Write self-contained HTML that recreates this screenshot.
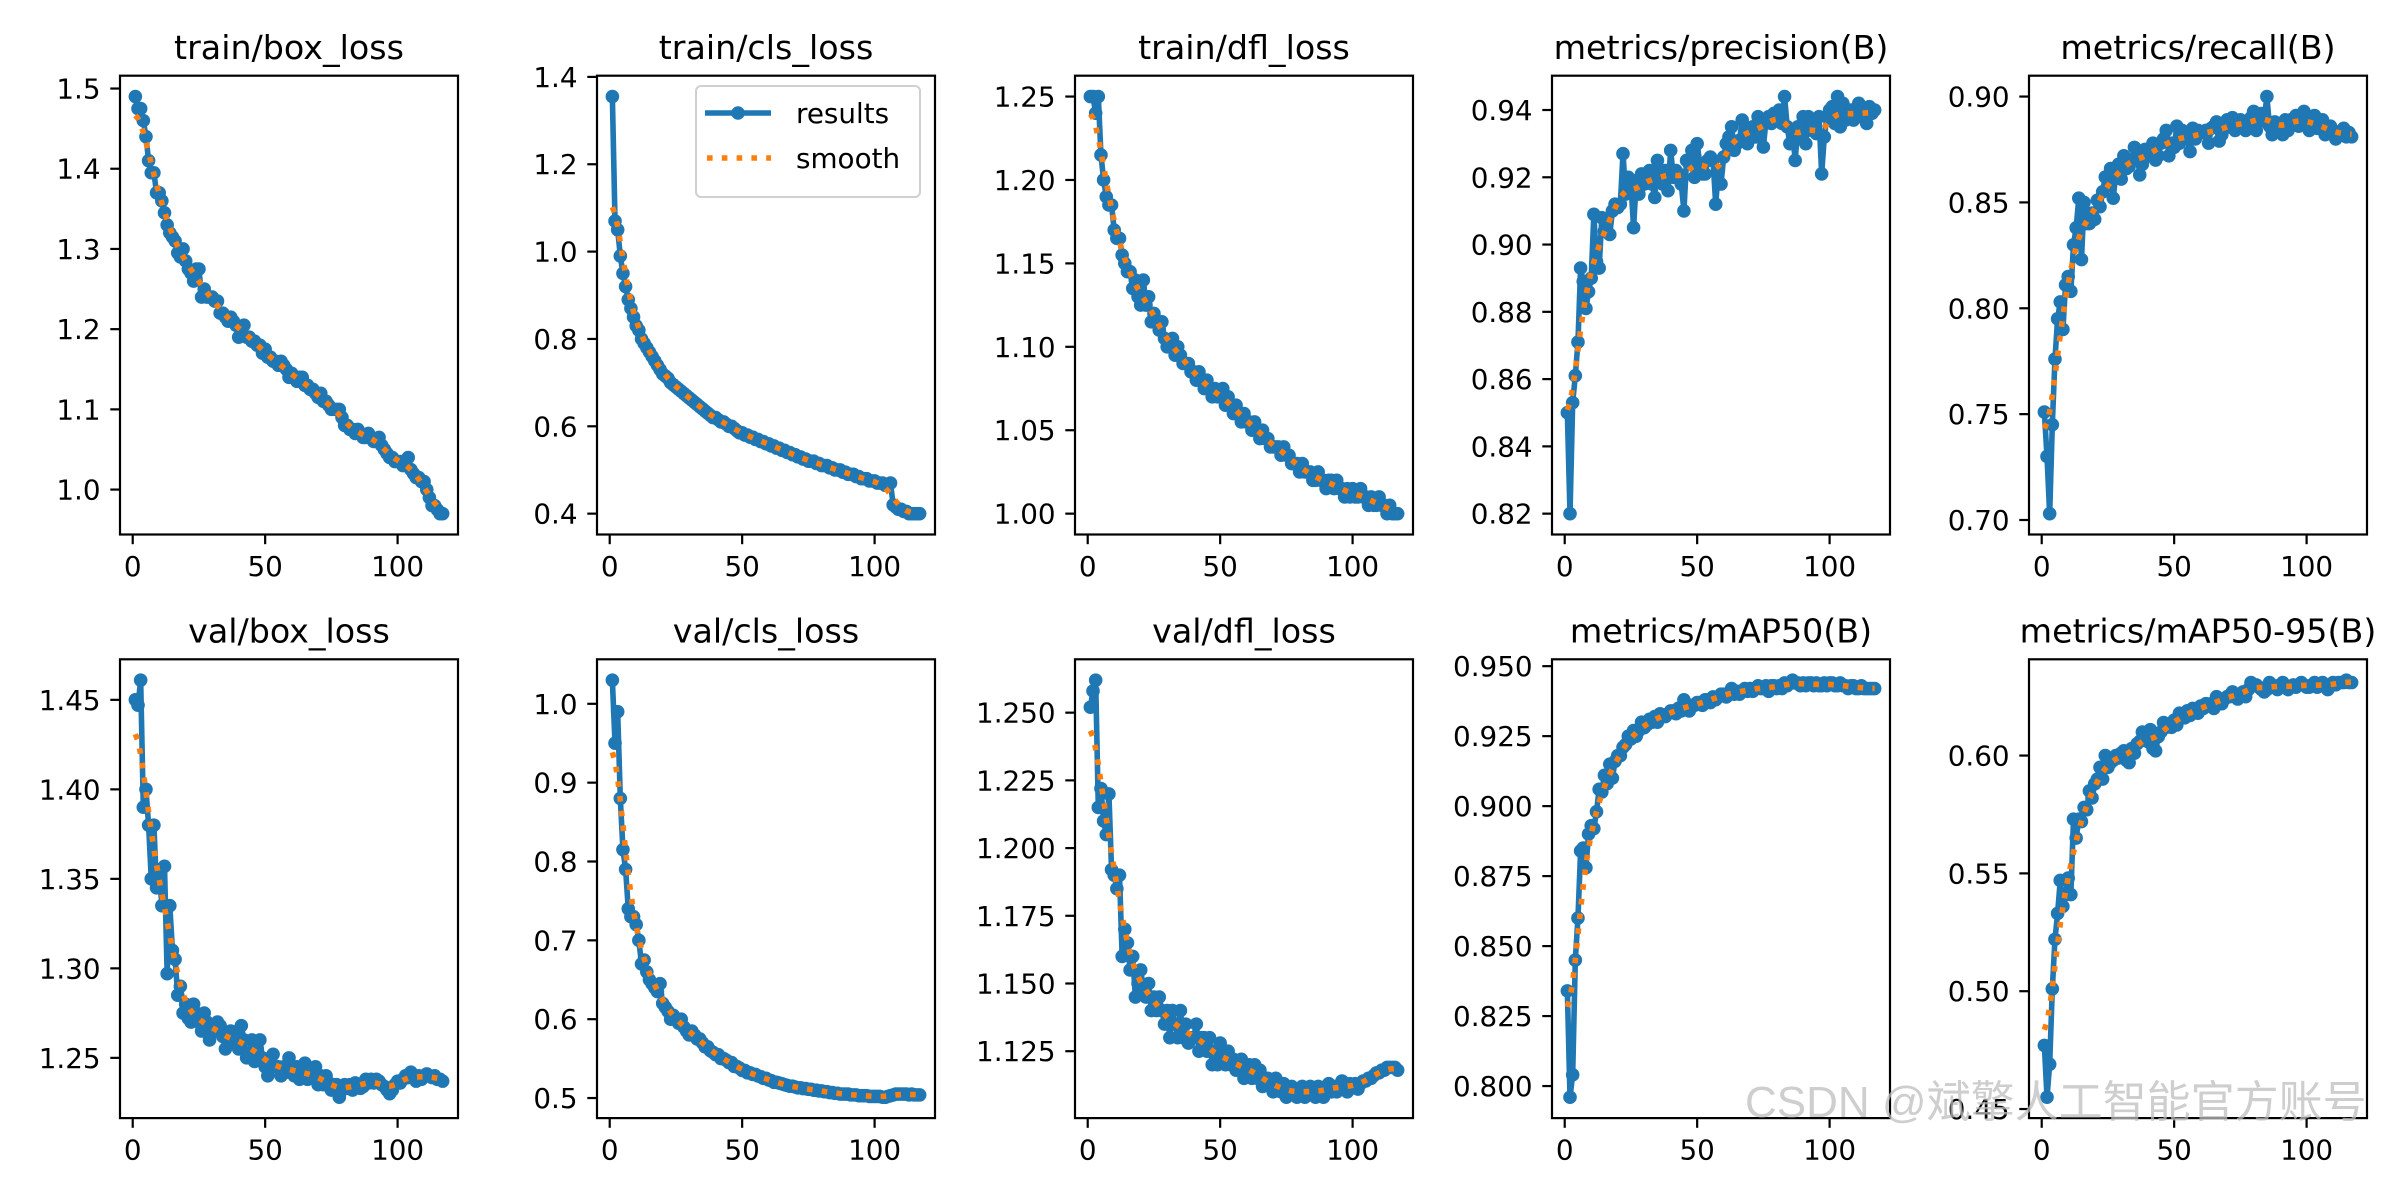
<!DOCTYPE html>
<html><head><meta charset="utf-8"><style>
html,body{margin:0;padding:0;background:#fff;}
svg{display:block;font-family:"DejaVu Sans","Liberation Sans",sans-serif;}
.wm{position:absolute;left:1745px;top:1066px;font:44px "Liberation Sans","Noto Sans CJK SC",sans-serif;color:rgba(190,190,190,0.75);white-space:nowrap;}
</style></head><body>
<div style="position:relative;width:2400px;height:1200px;overflow:hidden">
<svg id="fig" width="2400" height="1200" xmlns="http://www.w3.org/2000/svg"></svg>
<div class="wm">CSDN @斌擎人工智能官方账号</div>
</div>
<script>
const titles=["train/box_loss","train/cls_loss","train/dfl_loss","metrics/precision(B)","metrics/recall(B)","val/box_loss","val/cls_loss","val/dfl_loss","metrics/mAP50(B)","metrics/mAP50-95(B)"];
const trainBox=[1.49,1.475,1.475,1.46,1.44,1.41,1.395,1.395,1.37,1.37,1.36,1.345,1.33,1.32,1.315,1.31,1.295,1.29,1.3,1.285,1.275,1.27,1.26,1.275,1.275,1.24,1.25,1.24,1.24,1.24,1.235,1.235,1.22,1.22,1.215,1.21,1.215,1.21,1.205,1.19,1.2,1.205,1.19,1.19,1.185,1.185,1.18,1.18,1.17,1.175,1.165,1.165,1.16,1.16,1.155,1.16,1.155,1.15,1.14,1.145,1.14,1.135,1.14,1.14,1.13,1.13,1.125,1.125,1.12,1.115,1.12,1.11,1.11,1.105,1.1,1.1,1.1,1.1,1.09,1.08,1.08,1.075,1.075,1.07,1.075,1.07,1.065,1.065,1.07,1.065,1.06,1.06,1.065,1.055,1.05,1.045,1.04,1.04,1.035,1.035,1.035,1.03,1.035,1.04,1.025,1.02,1.015,1.015,1.01,1.01,1.0,0.99,0.98,0.98,0.975,0.97,0.97];
const trainCls=[1.355,1.07,1.05,0.99,0.95,0.92,0.89,0.87,0.85,0.83,0.82,0.80,0.79,0.78,0.77,0.76,0.75,0.74,0.73,0.72,0.715,0.71,0.70,0.695,0.69,0.685,0.68,0.675,0.67,0.665,0.66,0.655,0.65,0.645,0.64,0.635,0.63,0.625,0.62,0.62,0.615,0.61,0.61,0.605,0.60,0.60,0.595,0.59,0.585,0.585,0.58,0.58,0.575,0.575,0.57,0.57,0.565,0.565,0.56,0.56,0.555,0.555,0.55,0.55,0.545,0.545,0.54,0.54,0.535,0.535,0.53,0.53,0.525,0.525,0.52,0.52,0.52,0.515,0.515,0.51,0.51,0.51,0.505,0.505,0.50,0.50,0.50,0.495,0.495,0.49,0.49,0.49,0.485,0.485,0.48,0.48,0.48,0.475,0.475,0.475,0.47,0.47,0.47,0.465,0.465,0.47,0.42,0.415,0.41,0.41,0.405,0.405,0.40,0.40,0.40,0.40,0.40];
const trainDfl=[1.25,1.25,1.24,1.25,1.215,1.20,1.19,1.185,1.185,1.17,1.165,1.165,1.155,1.15,1.145,1.145,1.135,1.14,1.13,1.125,1.14,1.125,1.13,1.115,1.12,1.115,1.11,1.115,1.105,1.10,1.10,1.105,1.095,1.10,1.095,1.09,1.09,1.09,1.085,1.085,1.08,1.085,1.08,1.075,1.08,1.075,1.07,1.075,1.07,1.07,1.075,1.065,1.07,1.065,1.06,1.065,1.06,1.055,1.06,1.055,1.055,1.05,1.055,1.05,1.045,1.05,1.045,1.045,1.04,1.04,1.04,1.04,1.035,1.04,1.035,1.035,1.03,1.03,1.03,1.025,1.03,1.025,1.025,1.025,1.02,1.02,1.025,1.02,1.02,1.015,1.02,1.02,1.015,1.02,1.015,1.015,1.01,1.015,1.01,1.015,1.01,1.01,1.015,1.01,1.01,1.005,1.01,1.005,1.005,1.01,1.005,1.005,1.0,1.005,1.0,1.0,1.0];
const precision=[0.85,0.82,0.853,0.861,0.871,0.893,0.889,0.881,0.886,0.89,0.909,0.895,0.893,0.908,0.904,0.907,0.903,0.910,0.912,0.911,0.912,0.927,0.915,0.920,0.918,0.905,0.919,0.915,0.921,0.918,0.920,0.922,0.918,0.914,0.925,0.920,0.918,0.922,0.916,0.928,0.920,0.922,0.921,0.918,0.910,0.925,0.924,0.928,0.920,0.930,0.924,0.921,0.921,0.925,0.926,0.925,0.912,0.922,0.918,0.926,0.930,0.932,0.935,0.928,0.930,0.931,0.937,0.933,0.930,0.934,0.935,0.932,0.938,0.936,0.929,0.937,0.938,0.936,0.939,0.937,0.940,0.936,0.944,0.935,0.930,0.934,0.925,0.935,0.932,0.938,0.930,0.938,0.934,0.936,0.933,0.938,0.921,0.932,0.938,0.940,0.941,0.936,0.944,0.935,0.942,0.937,0.939,0.940,0.937,0.938,0.942,0.938,0.940,0.936,0.941,0.939,0.940];
const recall=[0.751,0.73,0.703,0.745,0.776,0.795,0.803,0.79,0.811,0.815,0.808,0.83,0.838,0.852,0.823,0.85,0.84,0.84,0.845,0.842,0.851,0.848,0.855,0.862,0.858,0.866,0.852,0.864,0.868,0.861,0.872,0.866,0.867,0.87,0.876,0.874,0.863,0.868,0.875,0.872,0.874,0.878,0.87,0.872,0.878,0.88,0.884,0.872,0.878,0.876,0.886,0.878,0.884,0.882,0.88,0.874,0.885,0.88,0.884,0.883,0.883,0.884,0.878,0.885,0.886,0.888,0.879,0.882,0.885,0.889,0.886,0.89,0.884,0.886,0.889,0.888,0.884,0.886,0.89,0.893,0.884,0.888,0.892,0.889,0.9,0.886,0.882,0.888,0.885,0.887,0.882,0.889,0.884,0.889,0.889,0.891,0.886,0.89,0.893,0.887,0.884,0.888,0.891,0.885,0.886,0.889,0.882,0.884,0.886,0.884,0.88,0.883,0.882,0.885,0.881,0.883,0.881];
const valBox=[1.45,1.447,1.461,1.39,1.40,1.38,1.35,1.38,1.345,1.355,1.335,1.357,1.297,1.335,1.31,1.305,1.285,1.29,1.275,1.28,1.272,1.27,1.28,1.275,1.27,1.265,1.275,1.27,1.26,1.268,1.265,1.27,1.268,1.262,1.255,1.26,1.265,1.258,1.262,1.255,1.268,1.26,1.25,1.252,1.26,1.248,1.255,1.26,1.25,1.245,1.24,1.248,1.252,1.245,1.245,1.24,1.245,1.242,1.25,1.242,1.24,1.245,1.238,1.242,1.247,1.238,1.24,1.24,1.245,1.235,1.24,1.235,1.24,1.236,1.232,1.235,1.235,1.228,1.232,1.235,1.233,1.235,1.232,1.236,1.235,1.233,1.234,1.238,1.236,1.238,1.236,1.238,1.237,1.235,1.234,1.232,1.23,1.232,1.235,1.237,1.236,1.238,1.24,1.239,1.242,1.24,1.237,1.24,1.238,1.24,1.241,1.24,1.239,1.24,1.238,1.238,1.237];
const valCls=[1.03,0.95,0.99,0.88,0.815,0.79,0.74,0.73,0.73,0.72,0.70,0.67,0.675,0.66,0.65,0.645,0.64,0.635,0.645,0.62,0.615,0.61,0.60,0.605,0.60,0.595,0.60,0.59,0.585,0.58,0.585,0.58,0.575,0.575,0.57,0.565,0.565,0.56,0.558,0.555,0.555,0.55,0.55,0.548,0.545,0.545,0.54,0.54,0.538,0.535,0.535,0.532,0.532,0.53,0.53,0.528,0.527,0.525,0.525,0.523,0.522,0.52,0.52,0.519,0.518,0.517,0.516,0.515,0.515,0.514,0.513,0.513,0.512,0.512,0.511,0.511,0.51,0.51,0.509,0.509,0.508,0.508,0.507,0.507,0.506,0.506,0.505,0.505,0.505,0.505,0.504,0.504,0.504,0.503,0.503,0.503,0.503,0.502,0.502,0.502,0.502,0.502,0.501,0.501,0.502,0.503,0.504,0.505,0.505,0.505,0.505,0.505,0.504,0.505,0.504,0.504,0.504];
const valDfl=[1.252,1.258,1.262,1.215,1.222,1.21,1.205,1.22,1.192,1.19,1.185,1.19,1.16,1.17,1.165,1.155,1.16,1.145,1.15,1.155,1.148,1.145,1.15,1.14,1.145,1.14,1.145,1.14,1.135,1.14,1.13,1.14,1.135,1.13,1.14,1.13,1.135,1.128,1.13,1.13,1.135,1.125,1.13,1.13,1.125,1.13,1.12,1.125,1.12,1.128,1.122,1.12,1.125,1.12,1.122,1.118,1.12,1.122,1.115,1.12,1.12,1.115,1.12,1.115,1.118,1.112,1.115,1.115,1.112,1.11,1.115,1.112,1.11,1.113,1.108,1.11,1.112,1.11,1.108,1.11,1.112,1.108,1.11,1.112,1.11,1.108,1.112,1.11,1.108,1.112,1.113,1.11,1.112,1.11,1.112,1.114,1.112,1.11,1.113,1.112,1.113,1.111,1.113,1.114,1.114,1.115,1.115,1.116,1.117,1.117,1.118,1.118,1.119,1.119,1.119,1.119,1.118];
const map50=[0.834,0.796,0.804,0.845,0.86,0.884,0.885,0.878,0.89,0.893,0.892,0.898,0.906,0.905,0.911,0.908,0.915,0.91,0.916,0.918,0.918,0.921,0.922,0.925,0.924,0.927,0.925,0.927,0.93,0.928,0.929,0.931,0.93,0.932,0.93,0.933,0.932,0.932,0.933,0.934,0.934,0.933,0.935,0.934,0.938,0.935,0.934,0.936,0.936,0.937,0.937,0.936,0.938,0.938,0.937,0.939,0.938,0.939,0.94,0.94,0.939,0.94,0.942,0.94,0.941,0.94,0.941,0.942,0.941,0.942,0.941,0.942,0.943,0.942,0.942,0.943,0.941,0.943,0.943,0.942,0.943,0.942,0.944,0.943,0.944,0.945,0.944,0.944,0.943,0.944,0.943,0.944,0.944,0.943,0.944,0.943,0.943,0.944,0.943,0.944,0.944,0.943,0.943,0.944,0.943,0.943,0.942,0.943,0.943,0.942,0.942,0.943,0.942,0.942,0.942,0.942,0.942];
const map5095=[0.477,0.455,0.469,0.501,0.522,0.533,0.547,0.536,0.541,0.548,0.541,0.573,0.565,0.573,0.572,0.578,0.577,0.585,0.582,0.588,0.59,0.595,0.59,0.60,0.595,0.597,0.598,0.60,0.599,0.601,0.602,0.598,0.597,0.603,0.601,0.605,0.606,0.61,0.609,0.606,0.611,0.603,0.602,0.608,0.61,0.614,0.612,0.613,0.612,0.615,0.613,0.618,0.617,0.616,0.619,0.617,0.62,0.619,0.618,0.621,0.62,0.622,0.621,0.622,0.62,0.625,0.624,0.622,0.624,0.625,0.625,0.627,0.626,0.624,0.626,0.627,0.625,0.628,0.631,0.63,0.63,0.629,0.628,0.627,0.628,0.631,0.63,0.629,0.628,0.63,0.631,0.629,0.628,0.629,0.63,0.629,0.63,0.631,0.63,0.629,0.629,0.63,0.631,0.629,0.63,0.631,0.63,0.628,0.63,0.631,0.63,0.631,0.631,0.631,0.632,0.631,0.631];
const xTicks=[0,50,100];
const yTicks=[[1.0,1.1,1.2,1.3,1.4,1.5],[0.4,0.6,0.8,1.0,1.2,1.4],[1.00,1.05,1.10,1.15,1.20,1.25],[0.82,0.84,0.86,0.88,0.90,0.92,0.94],[0.70,0.75,0.80,0.85,0.90],[1.25,1.30,1.35,1.40,1.45],[0.5,0.6,0.7,0.8,0.9,1.0],[1.125,1.150,1.175,1.200,1.225,1.250],[0.800,0.825,0.850,0.875,0.900,0.925,0.950],[0.45,0.50,0.55,0.60]];
const yDec=[1,1,2,2,2,2,1,3,3,2];
const series=[trainBox,trainCls,trainDfl,precision,recall,valBox,valCls,valDfl,map50,map5095];

const NS="http://www.w3.org/2000/svg";
const svg=document.getElementById('fig');
function mk(tag,attrs,parent){const e=document.createElementNS(NS,tag);for(const k in attrs)e.setAttribute(k,attrs[k]);(parent||svg).appendChild(e);return e;}
function gauss(y,s){const r=Math.round(4*s),w=[];let sum=0;for(let i=-r;i<=r;i++){const v=Math.exp(-0.5*i*i/(s*s));w.push(v);sum+=v;}
 const n=y.length,out=[];const idx=i=>{while(i<0||i>=n){if(i<0)i=-i-1;if(i>=n)i=2*n-i-1;}return i;};
 for(let j=0;j<n;j++){let a=0;for(let k=-r;k<=r;k++)a+=w[k+r]*y[idx(j+k)];out.push(a/sum);}return out;}
const colL=[120,597,1075,1552,2029],W=338,rowT=[75.7,659.3],H=458.8;
const XMIN=-4.8,XMAX=122.8;
series.forEach((ys,p)=>{
 const L=colL[p%5],T=rowT[Math.floor(p/5)];
 const g=mk('g',{});
 
 
 const sm=gauss(ys,3);
 let mn=Math.min(...ys,...sm),mx=Math.max(...ys,...sm);const pad=(mx-mn)*0.05;const y0=mn-pad,y1=mx+pad;
 const X=e=>L+(e-XMIN)/(XMAX-XMIN)*W;
 const Y=v=>T+H-(v-y0)/(y1-y0)*H;
 const pts=ys.map((v,i)=>X(i+1).toFixed(2)+','+Y(v).toFixed(2)).join(' ');
 const line=mk('polyline',{points:pts,fill:'none',stroke:'#1f77b4','stroke-width':5.6,'stroke-linejoin':'round'},g);
 
 
 ys.forEach((v,i)=>{const c=mk('circle',{cx:X(i+1),cy:Y(v),r:6.8,fill:'#1f77b4'},g);
  
  });
 const sp=sm.map((v,i)=>X(i+1).toFixed(2)+','+Y(v).toFixed(2)).join(' ');
 const sl=mk('polyline',{points:sp,fill:'none',stroke:'#ff7f0e','stroke-width':5.6,'stroke-dasharray':'5.6 9.2'},g);
 
 
 const fr=mk('rect',{x:L,y:T,width:W,height:H,fill:'none',stroke:'#000','stroke-width':2.2},g);
 
 
 xTicks.forEach(t=>{const x=X(t);
  const tk=mk('line',{x1:x,x2:x,y1:T+H,y2:T+H+9.7,stroke:'#000','stroke-width':2.2},g);
  
  
  const tx=mk('text',{x:x,y:T+H+41.5,'text-anchor':'middle','font-size':27.8,fill:'#000'},g);tx.textContent=t;
  
  });
 yTicks[p].forEach(t=>{const y=Y(t);if(y<T-1||y>T+H+1)return;
  const tk=mk('line',{x1:L-9.7,x2:L,y1:y,y2:y,stroke:'#000','stroke-width':2.2},g);
  
  
  const tx=mk('text',{x:L-19.4,y:y+10,'text-anchor':'end','font-size':27.8,fill:'#000'},g);tx.textContent=t.toFixed(yDec[p]);
  
  });
 const tt=mk('text',{x:L+W/2,y:T-16.7,'text-anchor':'middle','font-size':33.3,fill:'#000'},g);tt.textContent=titles[p];
 
 
 if(p===1){
  const lg=mk('g',{},g);
  
  
  mk('rect',{x:696,y:86,width:224,height:111,rx:5,fill:'#fff','fill-opacity':0.8,stroke:'#d0d0d0','stroke-width':2},lg);
  const l1=mk('line',{x1:705,x2:771,y1:113,y2:113,stroke:'#1f77b4','stroke-width':5.6},lg);
  
  
  mk('circle',{cx:738,cy:113,r:6.8,fill:'#1f77b4'},lg);
  const t1=mk('text',{x:796,y:123,'font-size':27.8},lg);t1.textContent='results';
  
  
  const l2=mk('line',{x1:707,x2:771,y1:158,y2:158,stroke:'#ff7f0e','stroke-width':5.6,'stroke-dasharray':'5.6 9.2'},lg);
  
  
  const t2=mk('text',{x:796,y:168,'font-size':27.8},lg);t2.textContent='smooth';
  
  
 }
});
</script>
</body></html>
